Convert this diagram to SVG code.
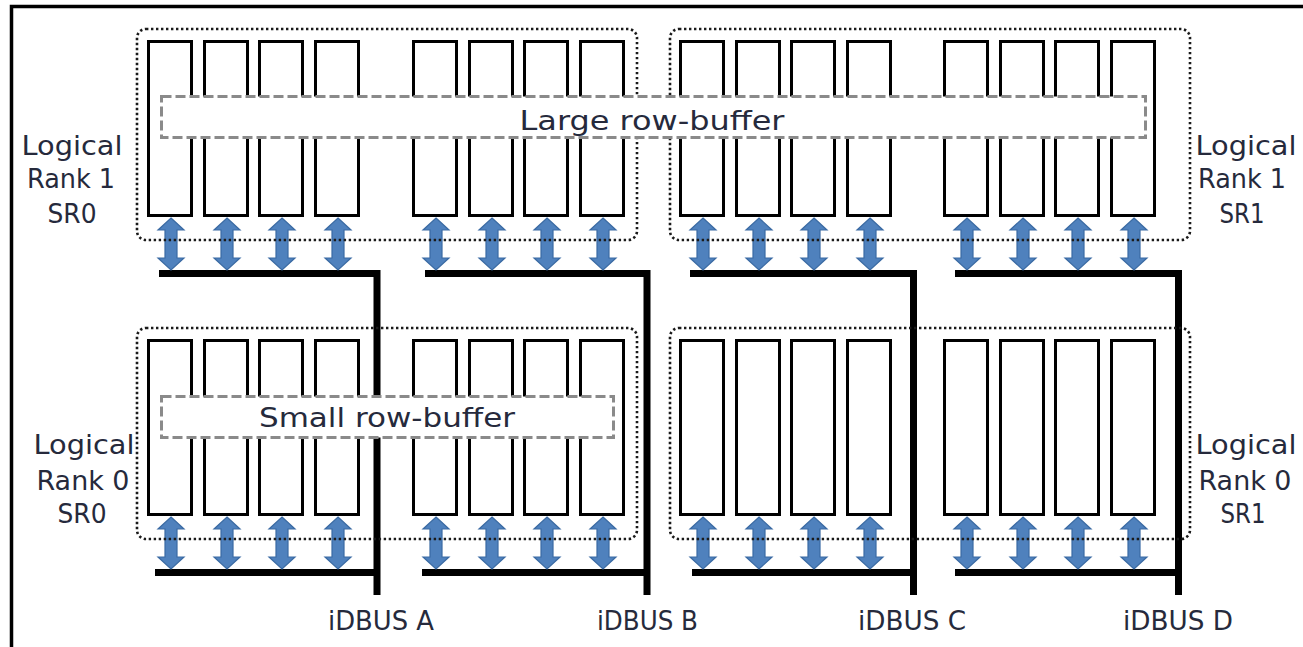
<svg xmlns="http://www.w3.org/2000/svg" xmlns:xlink="http://www.w3.org/1999/xlink" width="1303" height="647" viewBox="0 0 1303 647">
<style>
.frame{fill:none;stroke:#000;stroke-width:3.5}
.rank{fill:none;stroke:#1a1a1a;stroke-width:2.6;stroke-dasharray:2.4 2.6}
.bank{fill:#fff;stroke:#000;stroke-width:3}
.rb{fill:#fff;stroke:#8a8a8a;stroke-width:3;stroke-dasharray:10 4}
.arr{fill:#4f81bd;stroke:#3a6aa3;stroke-width:1.2}
.bus{fill:none;stroke:#000;stroke-width:7;stroke-linejoin:miter}
.lbl{font-family:"DejaVu Sans","Liberation Sans",sans-serif;font-size:27px;fill:#262a3c;text-anchor:middle}
.rbt{font-family:"DejaVu Sans","Liberation Sans",sans-serif;font-size:26px;fill:#262a3c;text-anchor:middle}
.bl{font-family:"DejaVu Sans","Liberation Sans",sans-serif;font-size:27px;fill:#262a3c}
</style>
<defs>
<path id="arrow" class="arr" d="M0,0 L13,12 L6,12 L6,40 L13,40 L0,52 L-13,40 L-6,40 L-6,12 L-13,12 Z"/>
<g id="banks4">
<rect class="bank" x="1.5" y="1.5" width="43" height="174"/>
<rect class="bank" x="57.5" y="1.5" width="43" height="174"/>
<rect class="bank" x="112.5" y="1.5" width="43" height="174"/>
<rect class="bank" x="168.5" y="1.5" width="43" height="174"/>
</g>
<g id="arrows4">
<use xlink:href="#arrow" x="23" y="0"/>
<use xlink:href="#arrow" x="79" y="0"/>
<use xlink:href="#arrow" x="134" y="0"/>
<use xlink:href="#arrow" x="190" y="0"/>
</g>
</defs>
<rect width="1303" height="647" fill="#fff"/>
<path class="frame" d="M11.5,650 V6.5 H1306"/>

<g id="connectors">
<path class="bus" d="M159,273.5 H377 V595"/>
<path class="bus" d="M425,273.5 H647 V595"/>
<path class="bus" d="M690,273.5 H913.5 V595"/>
<path class="bus" d="M955,273.5 H1178.5 V595"/>
<path class="bus" d="M155,572.5 H380"/>
<path class="bus" d="M422,572.5 H650"/>
<path class="bus" d="M692,572.5 H917"/>
<path class="bus" d="M955,572.5 H1182"/>
</g>

<g id="rank1-sr0">
<use xlink:href="#banks4" x="147" y="40"/>
<use xlink:href="#banks4" x="412" y="40"/>
<use xlink:href="#arrows4" x="148" y="218"/>
<use xlink:href="#arrows4" x="413" y="218"/>
<rect class="rank" x="137" y="29" width="500" height="211" rx="9"/>
</g>
<g id="rank1-sr1">
<use xlink:href="#banks4" x="679" y="40"/>
<use xlink:href="#banks4" x="943" y="40"/>
<use xlink:href="#arrows4" x="680" y="218"/>
<use xlink:href="#arrows4" x="944" y="218"/>
<rect class="rank" x="670" y="29" width="520" height="211" rx="9"/>
</g>
<g id="rank0-sr0">
<use xlink:href="#banks4" x="147" y="339"/>
<use xlink:href="#banks4" x="412" y="339"/>
<use xlink:href="#arrows4" x="148" y="517"/>
<use xlink:href="#arrows4" x="413" y="517"/>
<rect class="rank" x="137" y="328" width="500" height="211" rx="9"/>
</g>
<g id="rank0-sr1">
<use xlink:href="#banks4" x="679" y="339"/>
<use xlink:href="#banks4" x="943" y="339"/>
<use xlink:href="#arrows4" x="680" y="517"/>
<use xlink:href="#arrows4" x="944" y="517"/>
<rect class="rank" x="670" y="328" width="520" height="211" rx="9"/>
</g>

<g id="large-row-buffer">
<rect class="rb" x="161.5" y="96.5" width="984" height="41"/>
<text class="rbt" x="652" y="130" textLength="265" lengthAdjust="spacingAndGlyphs">Large row-buffer</text>
</g>
<g id="small-row-buffer">
<rect class="rb" x="161.5" y="396.5" width="452" height="41"/>
<text class="rbt" x="387" y="427" textLength="256" lengthAdjust="spacingAndGlyphs">Small row-buffer</text>
</g>

<g id="label-rank1-sr0">
<text class="lbl" x="72" y="155" textLength="101" lengthAdjust="spacingAndGlyphs">Logical</text>
<text class="lbl" x="71" y="188" textLength="88" lengthAdjust="spacingAndGlyphs">Rank 1</text>
<text class="lbl" x="72" y="223" textLength="49" lengthAdjust="spacingAndGlyphs">SR0</text>
</g>
<g id="label-rank0-sr0">
<text class="lbl" x="84" y="454" textLength="101" lengthAdjust="spacingAndGlyphs">Logical</text>
<text class="lbl" x="83" y="490" textLength="93" lengthAdjust="spacingAndGlyphs">Rank 0</text>
<text class="lbl" x="82" y="523" textLength="49" lengthAdjust="spacingAndGlyphs">SR0</text>
</g>
<g id="label-rank1-sr1">
<text class="lbl" x="1246" y="155" textLength="101" lengthAdjust="spacingAndGlyphs">Logical</text>
<text class="lbl" x="1242" y="188" textLength="88" lengthAdjust="spacingAndGlyphs">Rank 1</text>
<text class="lbl" x="1242" y="223" textLength="45" lengthAdjust="spacingAndGlyphs">SR1</text>
</g>
<g id="label-rank0-sr1">
<text class="lbl" x="1246" y="454" textLength="101" lengthAdjust="spacingAndGlyphs">Logical</text>
<text class="lbl" x="1245" y="490" textLength="93" lengthAdjust="spacingAndGlyphs">Rank 0</text>
<text class="lbl" x="1243" y="523" textLength="45" lengthAdjust="spacingAndGlyphs">SR1</text>
</g>

<g id="bus-labels">
<text class="bl" x="328" y="630" textLength="106" lengthAdjust="spacingAndGlyphs">iDBUS A</text>
<text class="bl" x="597" y="630" textLength="101" lengthAdjust="spacingAndGlyphs">iDBUS B</text>
<text class="bl" x="858" y="630" textLength="108" lengthAdjust="spacingAndGlyphs">iDBUS C</text>
<text class="bl" x="1123" y="630" textLength="110" lengthAdjust="spacingAndGlyphs">iDBUS D</text>
</g>
</svg>
